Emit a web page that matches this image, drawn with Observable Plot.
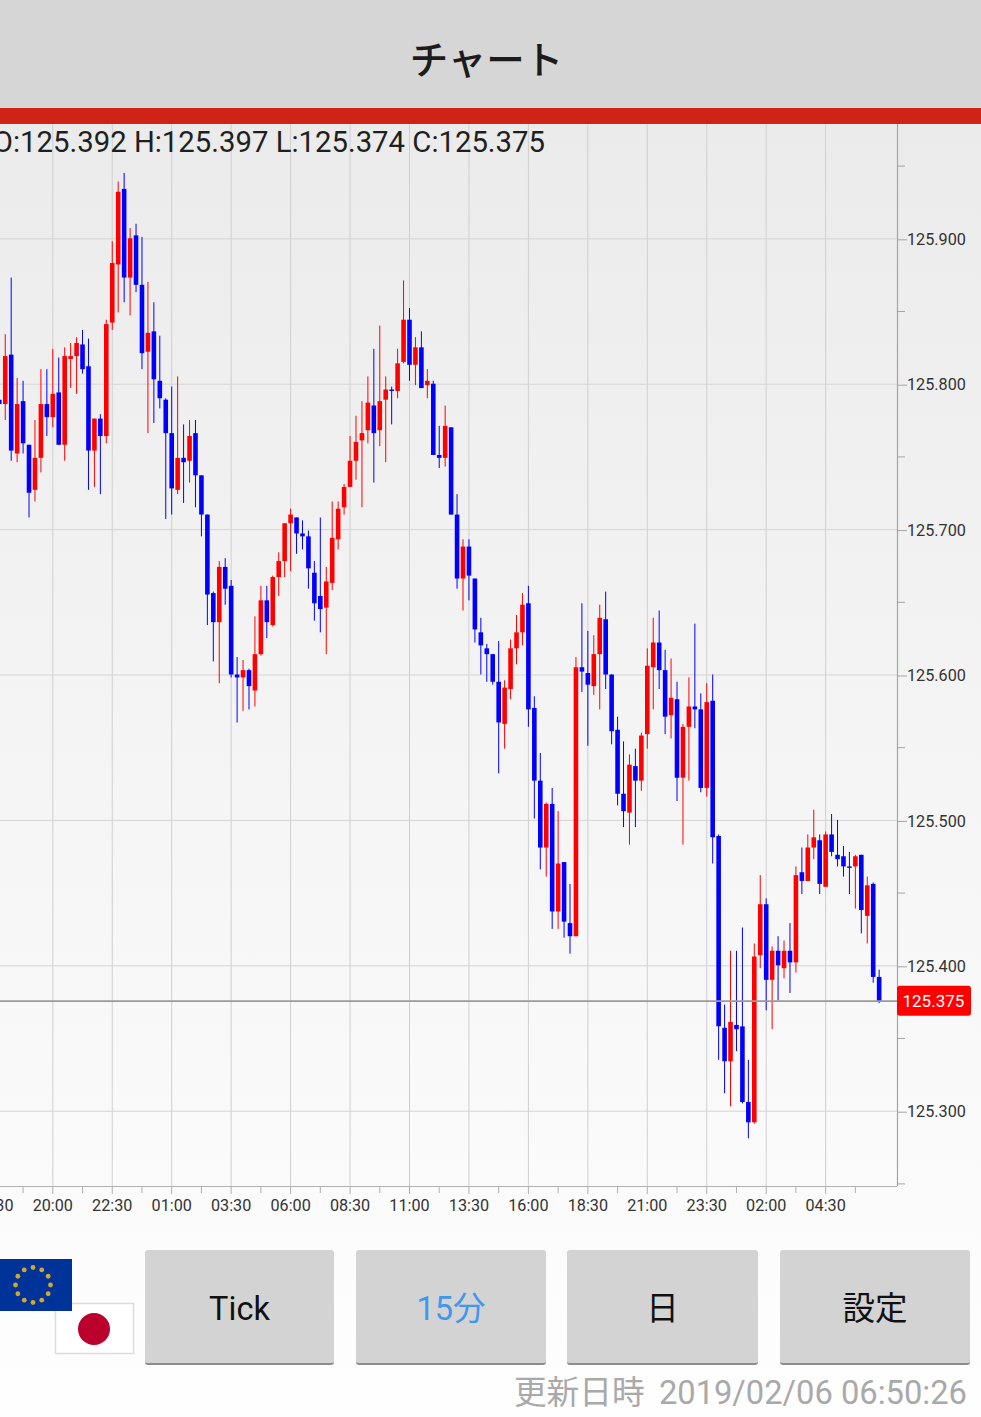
<!DOCTYPE html>
<html lang="ja">
<head>
<meta charset="utf-8">
<script src="https://cdn.jsdelivr.net/npm/d3@7"></script>
<script src="https://cdn.jsdelivr.net/npm/@observablehq/plot@0.6"></script>
<style>
html,body{margin:0;padding:0;background:#fff;}
#page{position:relative;width:981px;height:1417px;overflow:hidden;font-family:Roboto,"Noto Sans CJK JP",sans-serif;
 background:linear-gradient(#ebebeb 0,#ebebeb 124px,#fefefe 1417px);}
#head{position:absolute;left:-4px;top:0;width:981px;height:108px;text-align:center;line-height:115px;font-size:38.5px;font-weight:500;color:#1c1c1c;font-family:"Noto Sans CJK JP",sans-serif;}
#headbg{position:absolute;left:0;top:0;width:981px;height:108px;background:#d6d6d6;}
#bar{position:absolute;left:0;top:108px;width:981px;height:16px;background:#d02318;}
#chart{position:absolute;left:0;top:124px;}
#chart svg{display:block;background:transparent;}
#ohlc{position:absolute;right:436px;top:123px;font-size:29.3px;line-height:38px;color:#1f1f1f;white-space:nowrap;}
.btn{position:absolute;top:1250px;height:113px;background:#d3d3d3;border-bottom:2px solid #8c8c8c;border-radius:3px;text-align:center;line-height:118px;font-size:32.5px;color:#111;box-sizing:content-box;}
#stamp{position:absolute;right:14px;top:1372px;font-size:32.7px;line-height:42px;color:#a9a9a9;white-space:pre;}
#stamp span{margin-right:-2px;}
#flags{position:absolute;left:0;top:1250px;}
</style>
</head>
<body>
<div id="page">
  <div id="headbg"></div>
  <div id="head">チャート</div>
  <div id="chart"></div>
  <div id="bar"></div>
  <div id="ohlc"></div>
  <svg id="flags" width="140" height="110"></svg>
  <div class="btn" style="left:145px;width:189px">Tick</div>
  <div class="btn" style="left:356px;width:190px;color:#3f97ee">15分</div>
  <div class="btn" style="left:567px;width:191px">日</div>
  <div class="btn" style="left:780px;width:190px">設定</div>
  <div id="stamp"><span>更新日時</span>  2019/02/06 06:50:26</div>
</div>
<script>
// Candle index of the first entry (index 0 is the 20:00 gridline)
const firstIndex = -9;

const open = [
125.789,125.786,125.820,125.752,125.788,125.758,125.727,125.749,125.786,125.777,
125.794,125.758,125.817,125.819,125.827,125.812,125.754,125.776,125.764,125.842,
125.882,125.934,125.873,125.902,125.868,125.822,125.836,125.802,125.789,125.766,
125.727,125.749,125.747,125.766,125.737,125.710,125.656,125.636,125.674,125.661,
125.600,125.598,125.603,125.589,125.614,125.651,125.634,125.667,125.678,125.704,
125.708,125.697,125.695,125.670,125.654,125.646,125.663,125.693,125.715,125.729,
125.747,125.761,125.768,125.785,125.768,125.789,125.796,125.795,125.815,125.844,
125.813,125.825,125.799,125.800,125.751,125.749,125.770,125.710,125.666,125.688,
125.666,125.629,125.618,125.614,125.595,125.566,125.590,125.618,125.629,125.649,
125.577,125.527,125.481,125.511,125.437,125.471,125.429,125.420,125.605,125.601,
125.592,125.614,125.638,125.600,125.562,125.518,125.505,125.537,125.527,125.559,
125.605,125.622,125.603,125.572,125.583,125.529,125.564,125.578,125.576,125.522,
125.582,125.489,125.357,125.334,125.359,125.358,125.306,125.292,125.407,125.442,
125.390,125.410,125.398,125.410,125.402,125.464,125.458,125.481,125.486,125.454,
125.490,125.476,125.475,125.468,125.468,125.476,125.434,125.456,125.392];

const high = [
125.792,125.834,125.873,125.804,125.802,125.758,125.775,125.810,125.810,125.824,
125.818,125.825,125.828,125.832,125.837,125.831,125.776,125.779,125.844,125.898,
125.939,125.945,125.907,125.910,125.901,125.870,125.856,125.833,125.790,125.798,
125.805,125.772,125.775,125.775,125.737,125.710,125.657,125.678,125.680,125.665,
125.612,125.610,125.604,125.640,125.661,125.661,125.668,125.684,125.704,125.714,
125.708,125.706,125.699,125.678,125.708,125.674,125.719,125.719,125.731,125.764,
125.778,125.788,125.805,125.824,125.840,125.805,125.798,125.824,125.871,125.852,
125.832,125.836,125.810,125.802,125.771,125.785,125.770,125.724,125.693,125.693,
125.666,125.639,125.621,125.614,125.623,125.596,125.624,125.641,125.656,125.661,
125.585,125.546,125.512,125.522,125.506,125.471,125.456,125.612,125.649,125.630,
125.627,125.648,125.657,125.600,125.571,125.554,125.545,125.549,125.560,125.618,
125.639,125.644,125.617,125.611,125.595,125.566,125.598,125.635,125.587,125.594,
125.600,125.490,125.373,125.410,125.410,125.426,125.335,125.415,125.462,125.446,
125.413,125.420,125.417,125.429,125.468,125.481,125.490,125.507,125.490,125.492,
125.504,125.500,125.482,125.478,125.476,125.476,125.461,125.457,125.397];

const low = [
125.783,125.775,125.747,125.746,125.752,125.708,125.719,125.739,125.764,125.770,
125.758,125.747,125.797,125.793,125.807,125.727,125.729,125.724,125.759,125.837,
125.849,125.856,125.847,125.863,125.810,125.766,125.773,125.783,125.707,125.710,
125.724,125.718,125.732,125.715,125.695,125.634,125.609,125.594,125.648,125.598,
125.567,125.575,125.576,125.578,125.613,125.625,125.633,125.654,125.667,125.671,
125.683,125.686,125.659,125.637,125.629,125.614,125.658,125.686,125.710,125.729,
125.734,125.715,125.759,125.732,125.757,125.746,125.772,125.790,125.814,125.802,
125.799,125.797,125.790,125.751,125.742,125.743,125.710,125.659,125.644,125.651,
125.622,125.600,125.595,125.593,125.532,125.549,125.583,125.607,125.620,125.564,
125.501,125.466,125.461,125.425,125.425,125.419,125.408,125.420,125.588,125.551,
125.586,125.576,125.590,125.552,125.510,125.495,125.483,125.495,125.520,125.549,
125.576,125.590,125.559,125.556,125.513,125.483,125.527,125.563,125.519,125.516,
125.470,125.335,125.312,125.303,125.341,125.305,125.281,125.291,125.398,125.369,
125.356,125.376,125.391,125.381,125.395,125.449,125.458,125.473,125.449,125.454,
125.475,125.468,125.461,125.449,125.439,125.422,125.415,125.388,125.374];

const close = [
125.786,125.819,125.754,125.786,125.759,125.725,125.749,125.786,125.777,125.793,
125.758,125.819,125.819,125.828,125.810,125.754,125.776,125.764,125.841,125.883,
125.932,125.873,125.900,125.868,125.821,125.835,125.803,125.790,125.766,125.728,
125.749,125.746,125.764,125.737,125.710,125.655,125.636,125.674,125.659,125.600,
125.598,125.603,125.592,125.614,125.651,125.636,125.667,125.678,125.704,125.710,
125.697,125.695,125.673,125.649,125.645,125.664,125.694,125.714,125.729,125.747,
125.760,125.766,125.787,125.766,125.788,125.796,125.795,125.814,125.844,125.813,
125.825,125.797,125.802,125.751,125.749,125.771,125.710,125.666,125.688,125.668,
125.631,125.620,125.614,125.595,125.567,125.591,125.618,125.629,125.648,125.576,
125.527,125.481,125.511,125.437,125.470,125.430,125.420,125.605,125.602,125.593,
125.614,125.639,125.600,125.561,125.518,125.506,125.538,125.527,125.558,125.606,
125.622,125.603,125.571,125.584,125.529,125.564,125.578,125.576,125.522,125.581,
125.488,125.358,125.334,125.361,125.356,125.306,125.292,125.406,125.442,125.390,
125.410,125.400,125.410,125.402,125.462,125.458,125.481,125.488,125.456,125.490,
125.478,125.473,125.468,125.467,125.475,125.438,125.455,125.392,125.375];

const timeTicks  = [-10,0,10,20,30,40,50,60,70,80,90,100,110,120,130];
const timeLabels = ["17:30","20:00","22:30","01:00","03:30","06:00","08:30","11:00","13:30","16:00","18:30","21:00","23:30","02:00","04:30"];
const timeMinor  = [-5,5,15,25,35,45,55,65,75,85,95,105,115,125,135];
const priceTicks = [125.9,125.8,125.7,125.6,125.5,125.4,125.3];
const priceMinor = [125.95,125.85,125.75,125.65,125.55,125.45,125.35,125.25];
const lastPrice  = 125.375;
const lastLabel  = "125.375";
const ohlcLabel  = "O:125.392 H:125.397 L:125.374 C:125.375";

const candles = open.map((o,i)=>({k:firstIndex+i,o,h:high[i],l:low[i],c:close[i],col:close[i]>o?"#ff0000":"#0000ff"}));
const xDomain = [-8.798,142.087];
const yDomain = [125.24821,125.97861];
const fs = 16.2;
const noText = () => "";

const chart = Plot.plot({
  width:981,height:1106,
  marginLeft:0,marginRight:84,marginTop:0,marginBottom:44,
  style:{background:"transparent",fontFamily:"Roboto,sans-serif"},
  x:{domain:xDomain,label:null},
  y:{domain:yDomain,label:null},
  marks:[
    Plot.ruleX(timeTicks.filter(t=>t>=xDomain[0]),{stroke:"#cfcfcf",strokeWidth:1}),
    Plot.ruleY(priceTicks,{stroke:"#d4d4d4",strokeWidth:1}),
    Plot.ruleX(candles,{x:"k",y1:"l",y2:"h",stroke:"col",strokeWidth:1,clip:true}),
    Plot.ruleX(candles,{x:"k",y1:"o",y2:"c",stroke:"col",strokeWidth:4.6,clip:true}),
    Plot.ruleY([lastPrice],{stroke:"#9a9a9a",strokeWidth:1.6,dy:-1}),
    Plot.ruleY([yDomain[0]],{stroke:"#b0b0b0",strokeWidth:1}),
    Plot.ruleX([xDomain[1]],{stroke:"#a4a4a4",strokeWidth:1.2}),
    Plot.axisX(timeMinor,{anchor:"bottom",tickSize:7,tickFormat:noText,label:null,stroke:"#b0b0b0"}),
    Plot.axisX(timeTicks,{anchor:"bottom",tickSize:8,tickPadding:4.5,label:null,stroke:"#b0b0b0",
      tickFormat:t=>timeLabels[timeTicks.indexOf(t)],fontSize:fs,fill:"#333"}),
    Plot.axisY(priceMinor,{anchor:"right",tickSize:7,tickFormat:noText,label:null,stroke:"#a4a4a4"}),
    Plot.axisY(priceTicks,{anchor:"right",tickSize:9,tickPadding:0.5,label:null,stroke:"#a4a4a4",
      tickFormat:d=>d.toFixed(3),fontSize:fs,fill:"#333",textStroke:"none",dy:1}),
    Plot.rect([lastPrice],{x1:()=>xDomain[1],x2:()=>xDomain[1],y1:d=>d,y2:d=>d,
      insetRight:-74,insetTop:-16,insetBottom:-14,rx:3,fill:"#ff0000"}),
    Plot.text([lastLabel],{x:()=>xDomain[1],y:()=>lastPrice,text:d=>d,textAnchor:"start",dx:5,dy:-1,fill:"#fff",fontSize:17})
  ]
});
document.getElementById("chart").appendChild(chart);
document.getElementById("ohlc").textContent = ohlcLabel;

// Flags beside the buttons
(function(){
  const s=d3.select("#flags");
  s.append("rect").attr("x",55.5).attr("y",53.5).attr("width",78).attr("height",50).attr("fill","#fff").attr("stroke","#dcdcdc").attr("stroke-width",1.5);
  s.append("circle").attr("cx",94).attr("cy",79).attr("r",16).attr("fill","#bc002d");
  s.append("rect").attr("x",-7).attr("y",9).attr("width",79).attr("height",52).attr("fill","#003399");
  d3.range(12).forEach(i=>{
    const a=i*Math.PI/6;
    s.append("circle").attr("cx",33+17.5*Math.sin(a)).attr("cy",35-17.5*Math.cos(a)).attr("r",2.4).attr("fill","#d0a92c");
  });
})();
</script>
</body>
</html>
